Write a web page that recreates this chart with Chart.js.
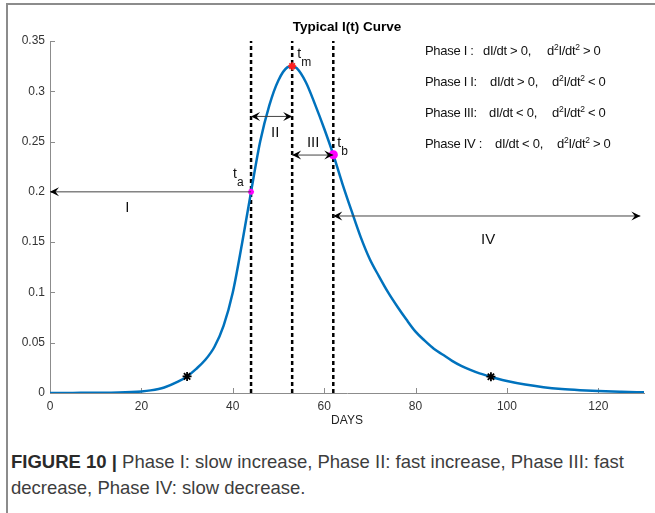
<!DOCTYPE html>
<html>
<head>
<meta charset="utf-8">
<script src="https://cdn.jsdelivr.net/npm/chart.js@4"></script>
<style>
  html, body { margin: 0; padding: 0; background: #fff; }
  body { width: 655px; height: 513px; position: relative; overflow: hidden; font-family: "Liberation Sans", Arial, sans-serif; }
  #frame { position: absolute; left: 6px; top: 3px; width: 700px; height: 600px; border-left: 2px solid #8c8c8c; border-top: 2px solid #8c8c8c; }
  #wrap { position: absolute; left: 0; top: 0; width: 655px; height: 440px; }
  .ph { position: absolute; font-size: 13px; color: #111; white-space: nowrap; line-height: 15px; letter-spacing: -0.3px; }
  .ph sup { font-size: 8.5px; vertical-align: 0; position: relative; top: -5px; }
  #caption { position: absolute; left: 11px; top: 449px; width: 625px; font-size: 18.5px; line-height: 26px; color: #3d3d3d; }
  #caption b { color: #2a2a2a; }
</style>
</head>
<body>
<div id="frame"></div>
<div id="wrap"><canvas id="c" width="655" height="440"></canvas></div>

<div class="ph" style="left:425px;top:43px">Phase I :</div>
<div class="ph" style="left:483px;top:43px">dI/dt &gt; 0,</div>
<div class="ph" style="left:547px;top:43px">d<sup>2</sup>I/dt<sup>2</sup> &gt; 0</div>

<div class="ph" style="left:425px;top:74px">Phase I I:</div>
<div class="ph" style="left:490px;top:74px">dI/dt &gt; 0,</div>
<div class="ph" style="left:552px;top:74px">d<sup>2</sup>I/dt<sup>2</sup> &lt; 0</div>

<div class="ph" style="left:425px;top:105px">Phase III:</div>
<div class="ph" style="left:489px;top:105px">dI/dt &lt; 0,</div>
<div class="ph" style="left:552px;top:105px">d<sup>2</sup>I/dt<sup>2</sup> &lt; 0</div>

<div class="ph" style="left:425px;top:136px">Phase IV :</div>
<div class="ph" style="left:495px;top:136px">dI/dt &lt; 0,</div>
<div class="ph" style="left:557px;top:136px">d<sup>2</sup>I/dt<sup>2</sup> &gt; 0</div>

<div id="caption"><b>FIGURE 10 |</b> Phase I: slow increase, Phase II: fast increase, Phase III: fast decrease, Phase IV: slow decrease.</div>

<script>
// ---- data ----
const chartTitle = 'Typical I(t) Curve';
const days = [0,5,10,15,20,22,25,28,30,32,34,36,38,40,42,44,46,48,50,52,53,54,56,58,60,62,64,66,68,70,72,74,76,78,80,82,84,86,88,90,92,94,96,98,100,104,108,112,116,120,125,130];
const infected = [0,0.0001,0.0002,0.0005,0.0016,0.0026,0.0055,0.0112,0.0165,0.024,0.033,0.046,0.067,0.1,0.148,0.2,0.25,0.286,0.311,0.324,0.325,0.323,0.309,0.287,0.263,0.237,0.208,0.181,0.155,0.133,0.116,0.1,0.086,0.073,0.061,0.052,0.044,0.038,0.032,0.027,0.023,0.0195,0.0168,0.0142,0.012,0.0084,0.0058,0.004,0.0028,0.0019,0.0012,0.0007];

const phaseDays = [44, 53, 62];          // t_a, t_m, t_b
const phaseValues = [0.2, 0.325, 0.237];
const phaseMarks = ['t_a', 't_m', 't_b'];
const starDays = [30, 96.5];
const starValues = [0.0165, 0.0162];

const xTicks = [0, 20, 40, 60, 80, 100, 120];
const yTicks = [0, 0.05, 0.1, 0.15, 0.2, 0.25, 0.3, 0.35];

// phase arrows (data space)
const arrowY    = [0.2, 0.275, 0.2366, 0.176];
const arrowFrom = [44, 44, 53, 62];
const arrowTo   = [0, 53, 62, 129.2];
const arrowBoth = [false, true, true, true];
const phaseNames = ['I', 'II', 'III', 'IV'];
const phaseLabelX = [16.9, 49.3, 57.6, 95.9];
const phaseLabelY = [0.184, 0.259, 0.2485, 0.152];

const FONT = '"Liberation Sans", Arial, sans-serif';

function arrowHead(ctx, tipX, tipY, dir) {
  ctx.beginPath();
  ctx.moveTo(tipX, tipY);
  ctx.lineTo(tipX - dir * 9, tipY - 4.5);
  ctx.lineTo(tipX - dir * 5.5, tipY);
  ctx.lineTo(tipX - dir * 9, tipY + 4.5);
  ctx.closePath();
  ctx.fill();
}

const annot = {
  id: 'annot',
  beforeDatasetsDraw(chart) {
    const { ctx, chartArea, scales: { x, y } } = chart;
    ctx.save();
    // title centred over the plot area
    ctx.fillStyle = '#000';
    ctx.font = 'bold 13.5px ' + FONT;
    ctx.textAlign = 'center';
    ctx.textBaseline = 'middle';
    ctx.fillText(chartTitle, (chartArea.left + chartArea.right) / 2, 27);
    // inward tick marks
    ctx.strokeStyle = '#8c8c8c';
    ctx.lineWidth = 1;
    ctx.beginPath();
    xTicks.forEach(t => {
      const px = Math.round(x.getPixelForValue(t)) + 0.5;
      ctx.moveTo(px, y.bottom); ctx.lineTo(px, y.bottom - 5);
    });
    yTicks.forEach(t => {
      const py = Math.round(y.getPixelForValue(t)) + 0.5;
      ctx.moveTo(x.left, py); ctx.lineTo(x.left + 5, py);
    });
    ctx.stroke();
    ctx.restore();
  },
  afterDatasetsDraw(chart) {
    const { ctx, scales: { x, y } } = chart;
    ctx.save();
    // arrows
    for (let i = 0; i < arrowY.length; i++) {
      const py = y.getPixelForValue(arrowY[i]);
      const x0 = x.getPixelForValue(arrowFrom[i]);
      const x1 = x.getPixelForValue(arrowTo[i]);
      ctx.strokeStyle = '#444';
      ctx.lineWidth = 1;
      ctx.beginPath(); ctx.moveTo(x0, py); ctx.lineTo(x1, py); ctx.stroke();
      ctx.fillStyle = '#000';
      const dir = Math.sign(x1 - x0);
      arrowHead(ctx, x1, py, dir);
      if (arrowBoth[i]) arrowHead(ctx, x0, py, -dir);
    }
    // phase labels
    ctx.fillStyle = '#111';
    ctx.font = '15px ' + FONT;
    ctx.textAlign = 'center';
    ctx.textBaseline = 'middle';
    for (let i = 0; i < phaseNames.length; i++) {
      ctx.fillText(phaseNames[i], x.getPixelForValue(phaseLabelX[i]), y.getPixelForValue(phaseLabelY[i]));
    }
    // t_a, t_m, t_b labels (offsets from their points)
    const offs = [[-15, -18], [8, -12], [7, -12]];
    for (let i = 0; i < phaseMarks.length; i++) {
      const px = x.getPixelForValue(phaseDays[i]) + offs[i][0];
      const py = y.getPixelForValue(phaseValues[i]) + offs[i][1];
      const [main, sub] = phaseMarks[i].split('_');
      ctx.font = '14px ' + FONT;
      ctx.textAlign = 'left';
      ctx.fillText(main, px - 3, py);
      ctx.font = '12px ' + FONT;
      ctx.fillText(sub, px + 1, py + 9);
    }
    ctx.restore();
  }
};

const curveData = days.map((d, i) => ({ x: d, y: infected[i] }));
const dashSets = phaseDays.map(d => ({
  data: [{ x: d, y: 0 }, { x: d, y: 0.35 }],
  borderColor: '#000', borderWidth: 2.5, borderDash: [4, 3],
  pointRadius: 0, fill: false, order: 5
}));

new Chart(document.getElementById('c'), {
  type: 'line',
  data: {
    datasets: [
      ...dashSets,
      {
        label: 'I(t)',
        data: curveData,
        borderColor: '#0072BD', borderWidth: 2.5,
        pointRadius: 0, cubicInterpolationMode: 'monotone', fill: false, order: 2
      },
      {
        data: starDays.map((d, i) => ({ x: d, y: starValues[i] })),
        showLine: false, pointStyle: 'star', pointRadius: 4.5,
        borderColor: '#000', backgroundColor: '#000', pointBorderWidth: 1.8, order: 1
      },
      {
        data: phaseDays.map((d, i) => ({ x: d, y: phaseValues[i] })),
        showLine: false, pointStyle: 'star',
        pointRadius: [3, 4, 4.5],
        pointBorderWidth: [1.8, 1.8, 3],
        borderColor: ['#ff00ff', '#ff2020', '#ff00ff'],
        backgroundColor: ['#ff00ff', '#ff2020', '#ff00ff'],
        order: 0
      }
    ]
  },
  options: {
    responsive: false,
    animation: false,
    events: [],
    layout: { padding: { left: 0, right: 11, top: 41, bottom: 0 } },
    plugins: {
      legend: { display: false },
      tooltip: { enabled: false },
      title: { display: false }
    },
    scales: {
      x: {
        type: 'linear', min: 0, max: 130,
        afterBuildTicks: s => { s.ticks = xTicks.map(v => ({ value: v })); },
        afterFit: s => { s.height = 47; },
        grid: { display: false, drawTicks: false, tickLength: 0 },
        border: { display: true, color: '#8c8c8c', width: 1 },
        ticks: { color: '#333', padding: 6, font: { family: FONT, size: 12 }, maxRotation: 0 },
        title: { display: true, text: 'DAYS', color: '#222', font: { family: FONT, size: 12 }, padding: { top: 0, bottom: 12 } }
      },
      y: {
        type: 'linear', min: 0, max: 0.35,
        afterBuildTicks: s => { s.ticks = yTicks.map(v => ({ value: v })); },
        afterFit: s => { s.width = 50; },
        grid: { display: false, drawTicks: false, tickLength: 0 },
        border: { display: true, color: '#8c8c8c', width: 1 },
        ticks: { color: '#333', padding: 5, font: { family: FONT, size: 12 },
          callback: v => String(+v.toFixed(2)) }
      }
    }
  },
  plugins: [annot]
});
</script>
</body>
</html>
